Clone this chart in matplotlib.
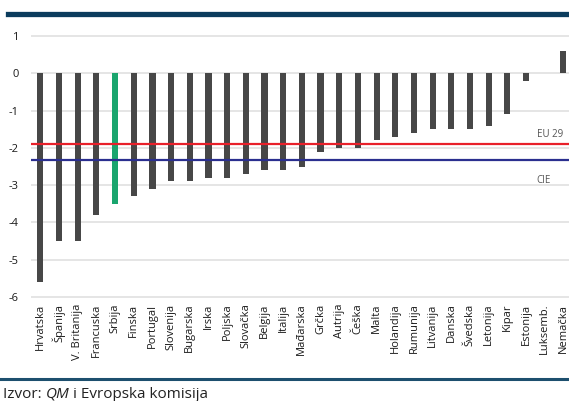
import matplotlib.pyplot as plt
from matplotlib.lines import Line2D

plt.rcParams['font.family'] = ['Open Sans', 'DejaVu Sans']
plt.rcParams['axes.unicode_minus'] = False

# Podaci
zemlje = ['Hrvatska', 'Španija', 'V. Britanija', 'Francuska', 'Srbija', 'Finska',
          'Portugal', 'Slovenija', 'Bugarska', 'Irska', 'Poljska', 'Slovačka',
          'Belgija', 'Italija', 'Mađarska', 'Grčka', 'Autrija', 'Češka', 'Malta',
          'Holandija', 'Rumunija', 'Litvanija', 'Danska', 'Švedska', 'Letonija',
          'Kipar', 'Estonija', 'Luksemb.', 'Nemačka']
vrednosti = [-5.6, -4.5, -4.5, -3.8, -3.5, -3.3, -3.1, -2.9, -2.9, -2.8, -2.8, -2.7,
             -2.6, -2.6, -2.5, -2.1, -2.0, -2.0, -1.8, -1.7, -1.6, -1.5, -1.5, -1.5,
             -1.4, -1.1, -0.2, 0.0, 0.6]
eu29 = -1.9
cie = -2.33

boje = ['#1aa56e' if z == 'Srbija' else '#474747' for z in zemlje]

fig = plt.figure(figsize=(5.69, 4.01), dpi=100)
ax = fig.add_axes([0.0545, 0.250, 0.9455, 0.688])

x = list(range(len(zemlje)))
ax.bar(x, vrednosti, width=0.33, color=boje, zorder=3)
ax.axhline(eu29, color='#e8202a', lw=1.6, zorder=4)
ax.axhline(cie, color='#2b2f8f', lw=1.6, zorder=4)
ax.text(28.0, eu29 + 0.1, 'EU 29', ha='right', va='bottom', fontsize=7, color='#555555')
ax.text(27.3, cie - 0.55, 'CIE', ha='right', va='center', fontsize=7, color='#555555')

ax.set_xlim(-0.5, 28.3)
ax.set_ylim(-6.1, 1.3)
ax.set_yticks(range(-6, 2))
ax.set_xticks(x)
ax.set_xticklabels(zemlje, rotation=90, fontsize=8, color='#1a1a1a')
ax.tick_params(axis='x', length=0, pad=2)
ax.tick_params(axis='y', length=0, pad=9, labelsize=8, labelcolor='#1a1a1a')
ax.grid(axis='y', color='#e0e0e0', lw=1.2, zorder=0)
for s in ax.spines.values():
    s.set_visible(False)

# Trake gore i dole
fig.add_artist(Line2D([8 / 569, 1], [1 - 13.5 / 401] * 2, color='#0b3c5d', lw=3.8))
fig.add_artist(Line2D([0, 1], [1 - 378.5 / 401] * 2, color='#1d4f6e', lw=2.2))

# Izvor
fig.canvas.draw()
r = fig.canvas.get_renderer()
xpos = 3 / 569
for deo, stil in [('Izvor: ', 'normal'), ('QM', 'italic'), (' i Evropska komisija', 'normal')]:
    t = fig.text(xpos, 1 - 394 / 401, deo, fontsize=11, style=stil, color='#222222', va='center')
    bb = t.get_window_extent(renderer=r)
    xpos += bb.width / fig.bbox.width

fig.savefig('out.png', dpi=100)
